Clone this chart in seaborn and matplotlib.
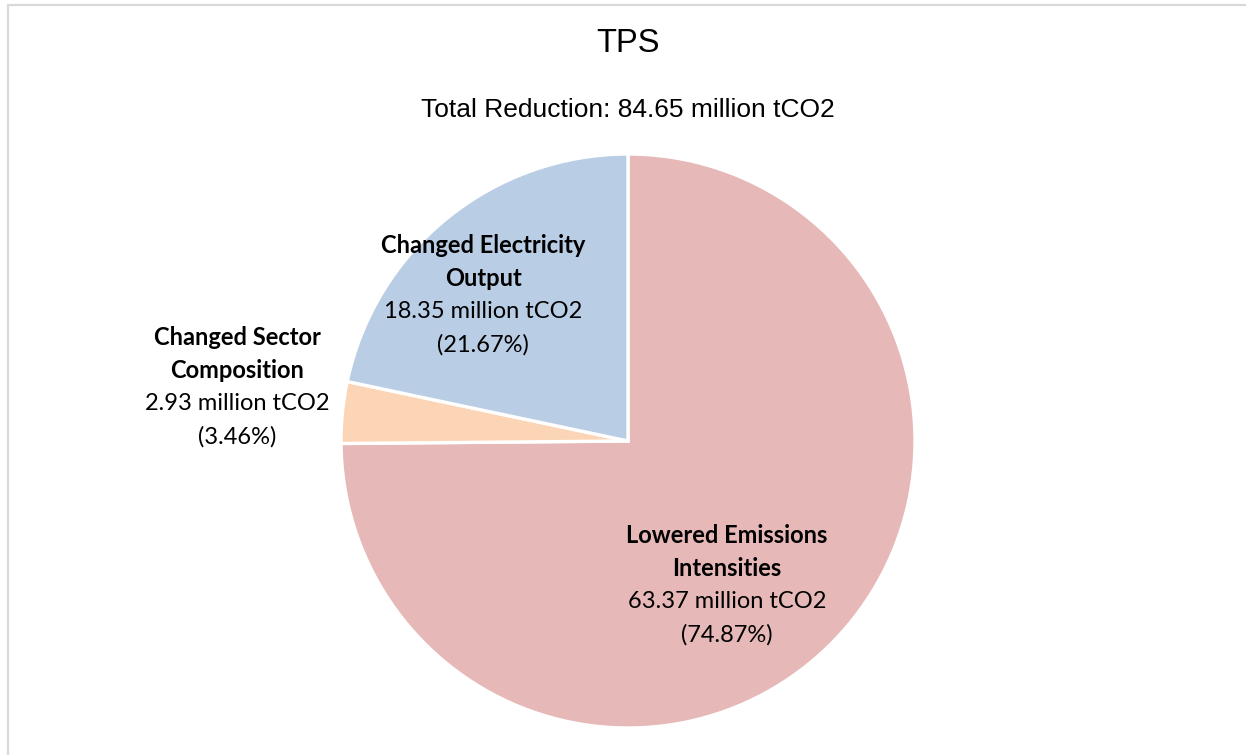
import matplotlib
matplotlib.use("Agg")
import matplotlib.pyplot as plt
import seaborn as sns
from matplotlib.lines import Line2D

# datos
categorias = ["Lowered Emissions\nIntensities", "Changed Sector\nComposition", "Changed Electricity\nOutput"]
valores = [63.37, 2.93, 18.35]          # million tCO2
porcentajes = [74.87, 3.46, 21.67]      # %
total = 84.65
colores = ["#E6B8B7", "#FBD5B5", "#B9CDE5"]

# posicion de las etiquetas (unidades del radio)
pos_etiquetas = [(0.345, -0.502), (-1.362, 0.188), (-0.505, 0.509)]

sns.set_theme(style="white")
plt.rcParams['font.family'] = ['Lato', 'DejaVu Sans']
plt.rcParams['text.color'] = 'black'

fig = plt.figure(figsize=(12.46, 7.55), dpi=100)
fig.patch.set_facecolor("white")

# marco gris
fig.add_artist(Line2D([8/1246, 8/1246], [0, 1 - 4.5/755], color="#D9D9D9", lw=1.6))
fig.add_artist(Line2D([8/1246, 1], [1 - 4.5/755, 1 - 4.5/755], color="#D9D9D9", lw=1.6))

cx, cy, r = 628, 441, 287
ax = fig.add_axes([(cx - r)/1246, (755 - cy - r)/755, 2*r/1246, 2*r/755])
ax.pie(valores, colors=sns.color_palette(colores), startangle=90, counterclock=False,
       wedgeprops=dict(edgecolor="white", linewidth=2.4))
ax.set_xlim(-1, 1)
ax.set_ylim(-1, 1)
ax.set_aspect("auto")
ax.axis("off")

lh = 23.8  # separacion de lineas en puntos
for cat, val, pct, (x, y) in zip(categorias, valores, porcentajes, pos_etiquetas):
    lineas = [(l, "bold") for l in cat.split("\n")]
    lineas += [("%.2f million tCO2" % val, "normal"), ("(%.2f%%)" % pct, "normal")]
    n = len(lineas)
    for i, (txt, peso) in enumerate(lineas):
        ax.annotate(txt, xy=(x, y), xytext=(0, ((n - 1)/2 - i)*lh), textcoords="offset points",
                    ha="center", va="center", fontsize=17, fontweight=peso, color="black",
                    annotation_clip=False)

fig.text(628/1246, 1 - 43/755, "TPS", ha="center", va="center", fontsize=23.5, color="black",
         family=["Liberation Sans", "DejaVu Sans"])
fig.text(628/1246, 1 - 110/755, "Total Reduction: %.2f million tCO2" % total, ha="center", va="center",
         fontsize=19, color="black", family=["Liberation Sans", "DejaVu Sans"])

fig.savefig("out.png", dpi=100, facecolor="white")
